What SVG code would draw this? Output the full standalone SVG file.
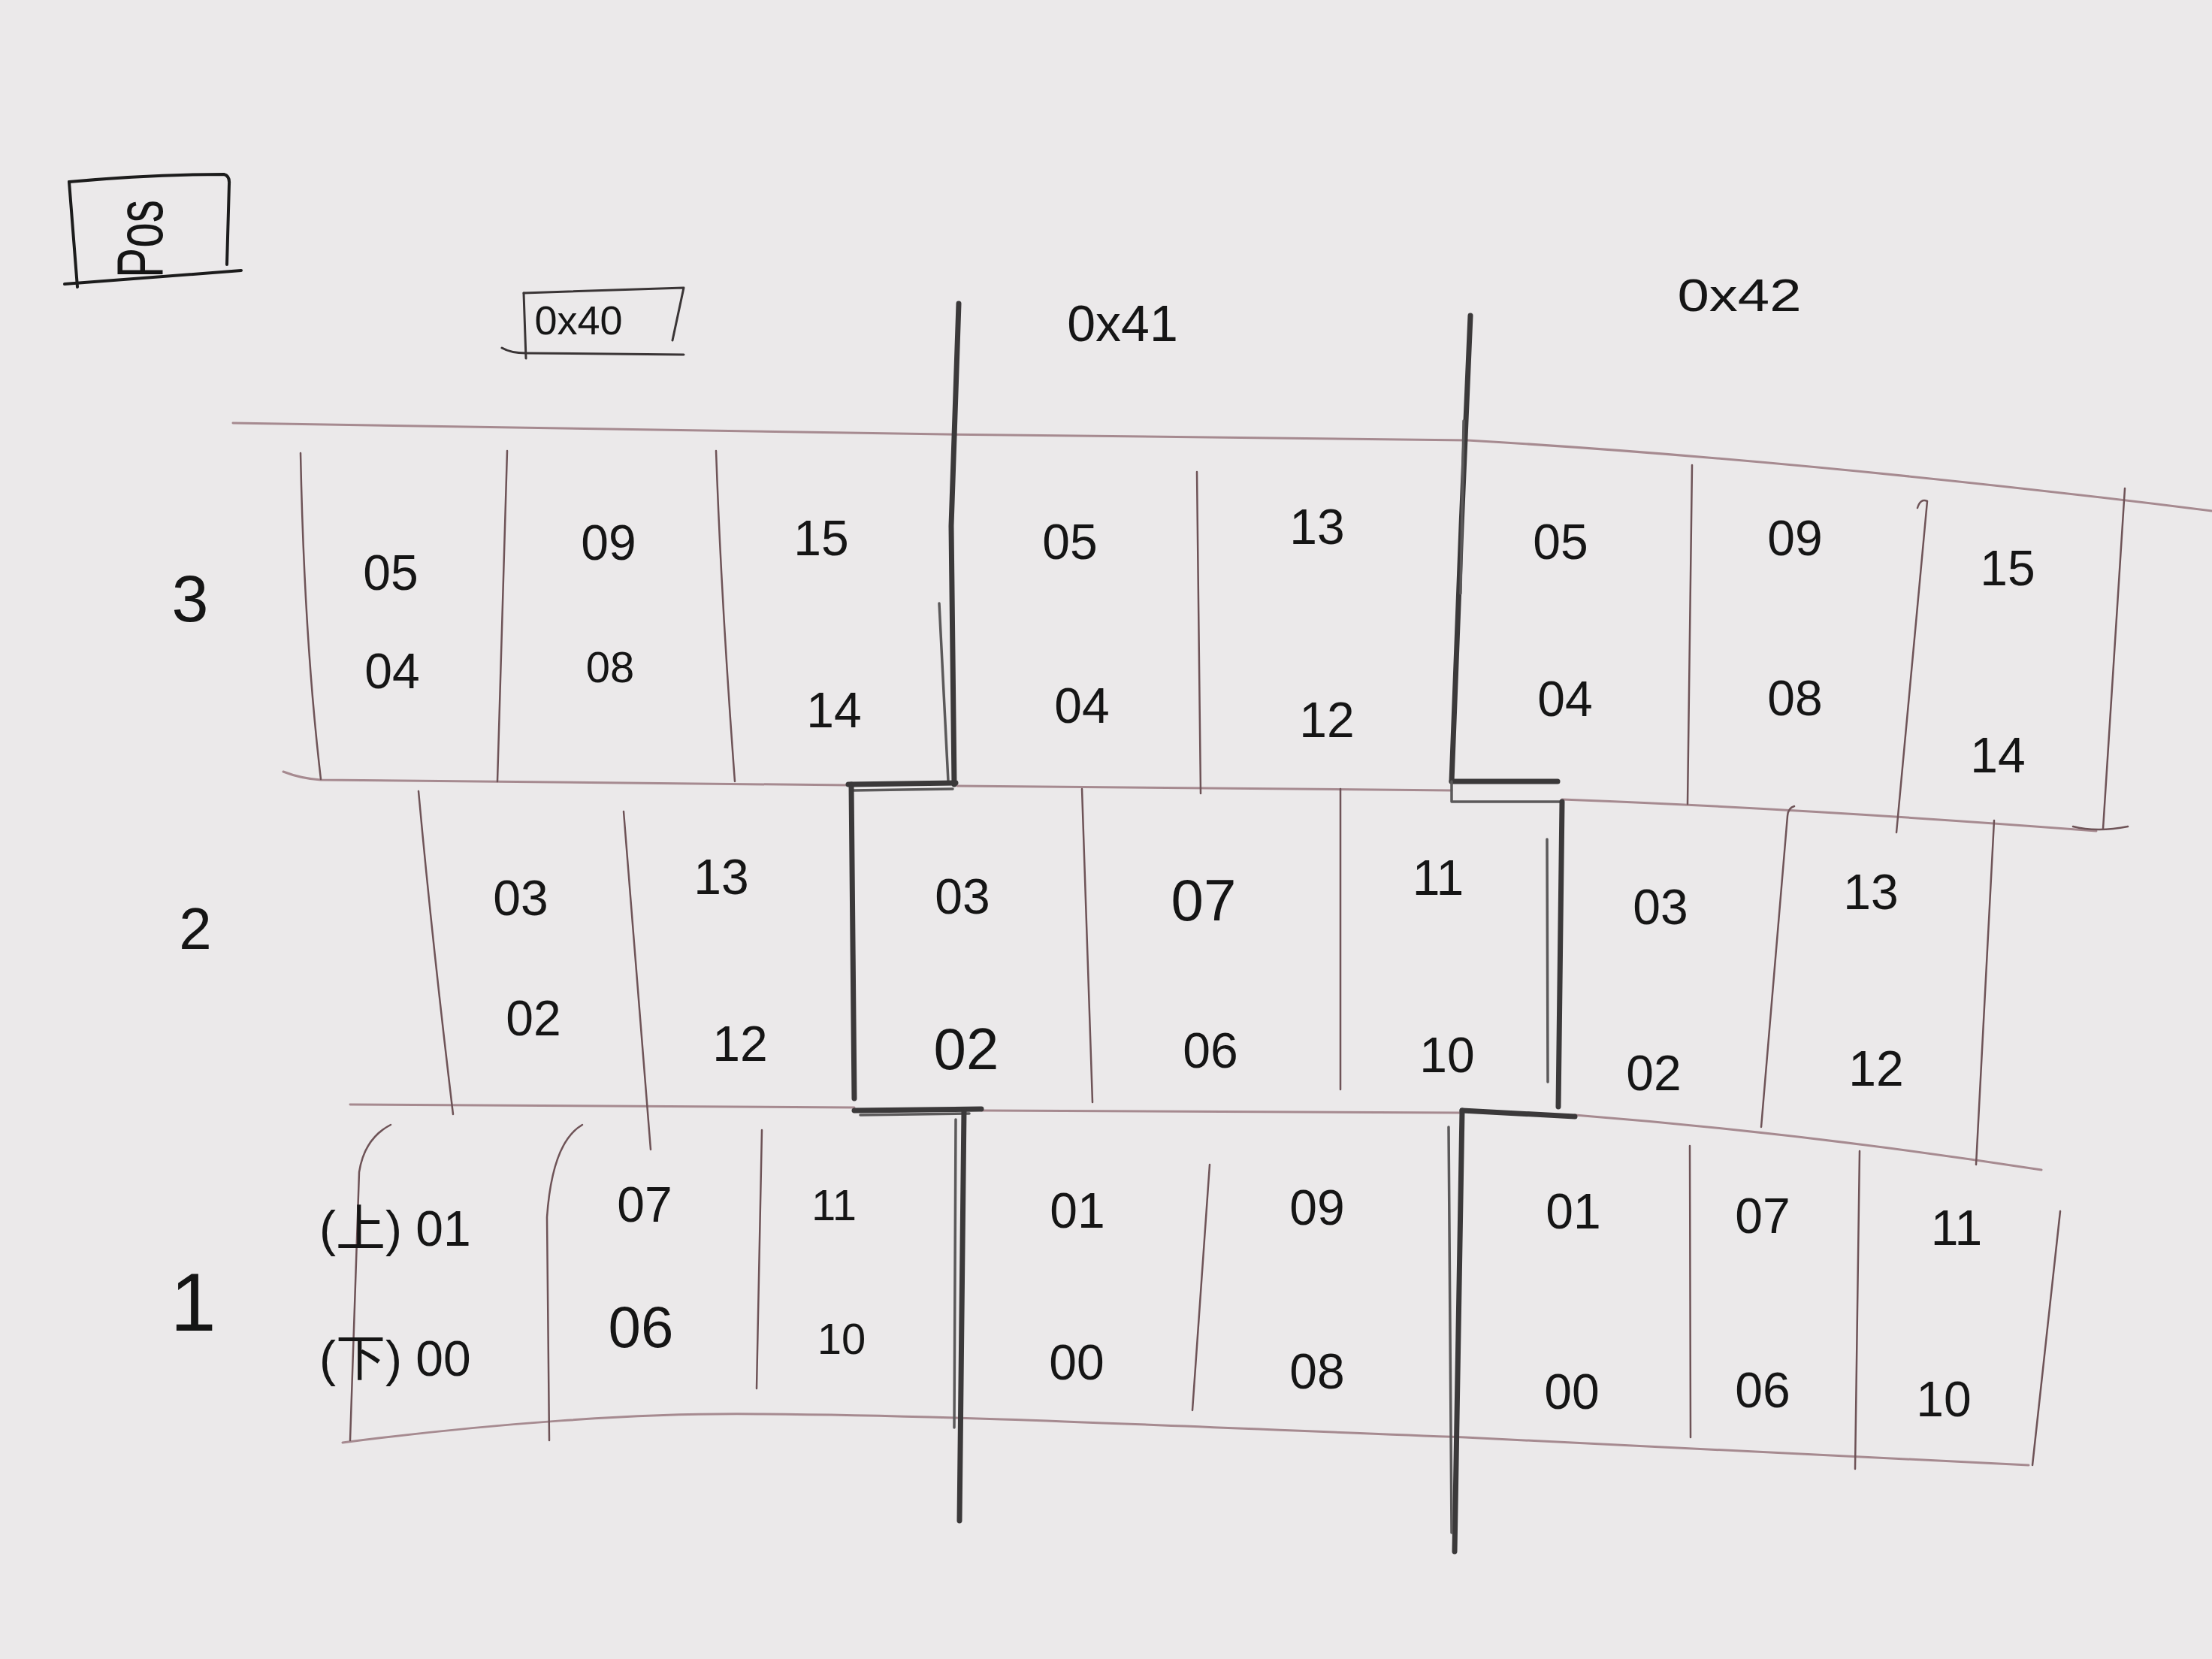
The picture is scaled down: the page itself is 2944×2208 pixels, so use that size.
<svg xmlns="http://www.w3.org/2000/svg" width="2944" height="2208" viewBox="0 0 2944 2208">
<style>
.thin{fill:none;stroke:#6e5357;stroke-width:2.5;stroke-linecap:round;stroke-linejoin:round}
.rule{fill:none;stroke:#a68a90;stroke-width:3;stroke-linecap:round;stroke-linejoin:round}
.thick{fill:none;stroke:#3b393a;stroke-width:7;stroke-linecap:round;stroke-linejoin:round}
.thick2{fill:none;stroke:#5b595a;stroke-width:3.5;stroke-linecap:round;stroke-linejoin:round}
.ink{fill:none;stroke:#1c1c1c;stroke-width:4;stroke-linecap:round;stroke-linejoin:round}
.ink2{fill:none;stroke:#3a3536;stroke-width:3;stroke-linecap:round;stroke-linejoin:round}
text{font-family:"Liberation Sans","Noto Sans CJK SC",sans-serif;fill:#151515}
.num{font-size:66px;text-anchor:middle;dominant-baseline:central}
.lg{font-size:78px}
.sm{font-size:58px}
</style>
<rect width="2944" height="2208" fill="#ebe9ea"/>

<g id="pos-label">
<path class="ink" d="M92,242 Q200,232 298,232 Q306,234 305,245 L302,352"/>
<path class="ink" d="M92,242 L103,382"/>
<path class="ink" d="M86,378 L321,360"/>
<text transform="translate(216,318) rotate(-90)" text-anchor="middle" font-size="88" textLength="104" lengthAdjust="spacingAndGlyphs">Pos</text>
</g>

<g id="head-0x40">
<path class="ink2" d="M697,390 L910,383 L895,453"/>
<path class="ink2" d="M697,390 L700,477"/>
<path class="ink2" d="M668,463 Q680,470 700,470 L910,472"/>
<text x="770" y="426" class="num" style="font-size:54px">0x40</text>
</g>
<g id="head-0x41"><text x="1494" y="430" class="num" style="font-size:68px">0x41</text></g>
<g id="head-0x42"><text x="2315" y="392" class="num" style="font-size:62px" textLength="165" lengthAdjust="spacingAndGlyphs">0x42</text></g>

<g id="row-3-label"><text x="253" y="796" class="num" style="font-size:88px">3</text></g>
<g id="row-2-label"><text x="260" y="1236" class="num" style="font-size:78px">2</text></g>
<g id="row-1-label"><text x="257" y="1732" class="num" style="font-size:110px">1</text></g>

<g id="connectors">
<path class="rule" d="M310,563 L1258,578 L1953,586 Q2400,612 2944,680"/>
<path class="rule" d="M377,1027 Q400,1036 427,1038 L1131,1045"/>
<path class="rule" d="M1274,1046 L1932,1052"/>
<path class="rule" d="M2079,1064 Q2400,1076 2790,1106"/>
<path class="rule" d="M466,1470 L1137,1474"/>
<path class="rule" d="M1306,1478 L1946,1481"/>
<path class="rule" d="M2096,1484 Q2400,1508 2717,1557"/>
<path class="rule" d="M456,1920 C650,1895 850,1880 1010,1882 C1300,1884 1600,1900 1950,1913 L2700,1950"/>

<path class="thin" d="M400,603 Q405,850 427,1037"/>
<path class="thin" d="M675,600 L662,1040"/>
<path class="thin" d="M953,600 Q960,800 978,1040"/>
<path class="thin" d="M1593,628 L1598,1056"/>
<path class="thin" d="M2252,619 L2246,1070"/>
<path class="thin" d="M2552,676 Q2556,663 2565,667 L2524,1108"/>
<path class="thin" d="M2828,650 L2799,1103"/>
<path class="thin" d="M2759,1100 Q2790,1108 2832,1100"/>

<path class="thin" d="M557,1053 Q575,1250 603,1483"/>
<path class="thin" d="M830,1080 L866,1530"/>
<path class="thin" d="M1440,1050 L1454,1467"/>
<path class="thin" d="M1784,1050 L1784,1450"/>
<path class="thin" d="M2388,1073 Q2380,1075 2379,1086 L2344,1500"/>
<path class="thin" d="M2654,1092 L2630,1550"/>

<path class="thin" d="M520,1497 Q485,1515 478,1560 L466,1917"/>
<path class="thin" d="M775,1497 Q735,1520 728,1620 L731,1917"/>
<path class="thin" d="M1014,1504 L1007,1848"/>
<path class="thin" d="M1610,1550 L1587,1877"/>
<path class="thin" d="M2249,1525 L2250,1913"/>
<path class="thin" d="M2475,1532 L2469,1955"/>
<path class="thin" d="M2742,1612 L2705,1950"/>

<path class="thick" d="M1276,404 L1266,700 L1270,1044"/>
<path class="thick2" d="M1250,803 L1262,1040"/>
<path class="thick" d="M1129,1044 L1272,1042"/>
<path class="thick2" d="M1135,1052 L1268,1050"/>
<path class="thick" d="M1133,1044 L1137,1462"/>
<path class="thick" d="M1137,1478 L1306,1476"/>
<path class="thick2" d="M1145,1484 L1290,1482"/>
<path class="thick" d="M1283,1477 L1277,2024"/>
<path class="thick2" d="M1272,1490 L1270,1900"/>

<path class="thick" d="M1957,420 L1945,700 L1932,1040"/>
<path class="thick2" d="M1948,560 L1944,790"/>
<path class="thick" d="M1932,1040 L2073,1040"/>
<path class="thick2" d="M1932,1040 L1932,1067 L2079,1067"/>
<path class="thick" d="M2079,1067 L2074,1473"/>
<path class="thick2" d="M2059,1117 L2060,1440"/>
<path class="thick" d="M1946,1478 L2096,1486"/>
<path class="thick" d="M1946,1478 L1936,2065"/>
<path class="thick2" d="M1928,1500 L1932,2040"/>
</g>

<g id="cells-0x40-r3">
<g id="c40-r3-a"><text class="num" x="520" y="762">05</text><text class="num" x="522" y="893">04</text></g>
<g id="c40-r3-b"><text class="num" x="810" y="722">09</text><text class="num sm" x="812" y="887">08</text></g>
<g id="c40-r3-c"><text class="num" x="1093" y="716">15</text><text class="num" x="1110" y="945">14</text></g>
</g>
<g id="cells-0x41-r3">
<g id="c41-r3-a"><text class="num" x="1424" y="721">05</text><text class="num" x="1440" y="939">04</text></g>
<g id="c41-r3-b"><text class="num" x="1753" y="701">13</text><text class="num" x="1766" y="958">12</text></g>
</g>
<g id="cells-0x42-r3">
<g id="c42-r3-a"><text class="num" x="2077" y="721">05</text><text class="num" x="2083" y="930">04</text></g>
<g id="c42-r3-b"><text class="num" x="2389" y="716">09</text><text class="num" x="2389" y="929">08</text></g>
<g id="c42-r3-c"><text class="num" x="2672" y="756">15</text><text class="num" x="2659" y="1005">14</text></g>
</g>

<g id="cells-0x40-r2">
<g id="c40-r2-a"><text class="num" x="693" y="1195">03</text><text class="num" x="710" y="1355">02</text></g>
<g id="c40-r2-b"><text class="num" x="960" y="1167">13</text><text class="num" x="985" y="1389">12</text></g>
</g>
<g id="cells-0x41-r2">
<g id="c41-r2-a"><text class="num" x="1281" y="1193">03</text><text class="num lg" x="1286" y="1396">02</text></g>
<g id="c41-r2-b"><text class="num lg" x="1602" y="1198">07</text><text class="num" x="1611" y="1398">06</text></g>
<g id="c41-r2-c"><text class="num" x="1914" y="1168">11</text><text class="num" x="1926" y="1404">10</text></g>
</g>
<g id="cells-0x42-r2">
<g id="c42-r2-a"><text class="num" x="2210" y="1207">03</text><text class="num" x="2201" y="1428">02</text></g>
<g id="c42-r2-b"><text class="num" x="2490" y="1187">13</text><text class="num" x="2497" y="1422">12</text></g>
</g>

<g id="cells-0x40-r1">
<g id="c40-r1-a"><text x="425" y="1635" style="font-size:66px;dominant-baseline:central">(上) 01</text><text x="425" y="1808" style="font-size:66px;dominant-baseline:central">(下) 00</text></g>
<g id="c40-r1-b"><text class="num" x="858" y="1603">07</text><text class="num lg" x="853" y="1766">06</text></g>
<g id="c40-r1-c"><text class="num sm" x="1110" y="1603">11</text><text class="num sm" x="1120" y="1781">10</text></g>
</g>
<g id="cells-0x41-r1">
<g id="c41-r1-a"><text class="num" x="1434" y="1611">01</text><text class="num" x="1433" y="1813">00</text></g>
<g id="c41-r1-b"><text class="num" x="1753" y="1607">09</text><text class="num" x="1753" y="1825">08</text></g>
</g>
<g id="cells-0x42-r1">
<g id="c42-r1-a"><text class="num" x="2094" y="1612">01</text><text class="num" x="2092" y="1852">00</text></g>
<g id="c42-r1-b"><text class="num" x="2346" y="1618">07</text><text class="num" x="2346" y="1850">06</text></g>
<g id="c42-r1-c"><text class="num" x="2604" y="1634">11</text><text class="num" x="2587" y="1862">10</text></g>
</g>
</svg>
